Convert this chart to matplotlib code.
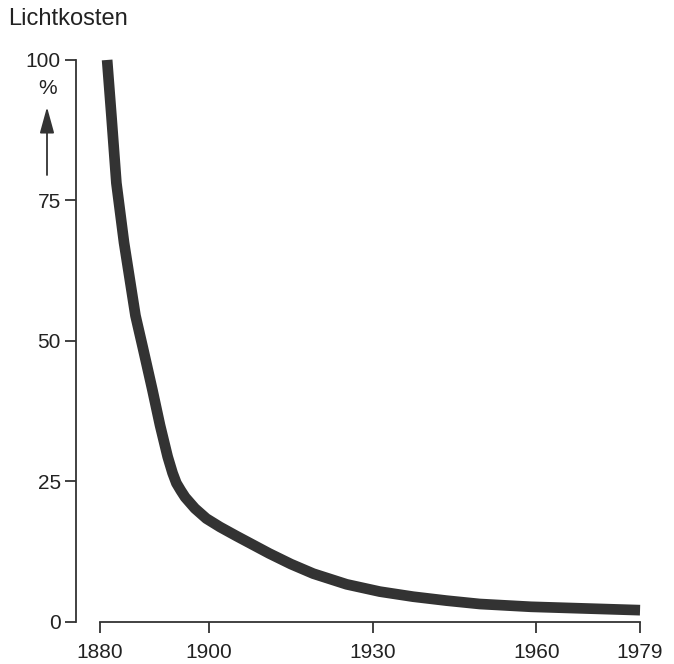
import matplotlib
matplotlib.use("Agg")
import matplotlib.pyplot as plt

# light cost (Lichtkosten) in percent of the 1880 level
years = [1881.3, 1882.1, 1883.0, 1884.4, 1886.5, 1887.9, 1889.6, 1891.0, 1892.4,
         1893.3, 1894.0, 1894.8, 1895.6, 1897.4, 1899.5, 1902.0, 1905.0, 1908.1,
         1911.0, 1915.0, 1919.1, 1925.2, 1931.3, 1937.4, 1943.5, 1949.6, 1959.0,
         1979.0]
cost_pct = [100, 89.9, 78.1, 67.5, 54.5, 48.6, 41.3, 35.0, 29.4,
            26.5, 24.7, 23.4, 22.2, 20.2, 18.4, 16.9, 15.3, 13.7,
            12.2, 10.3, 8.6, 6.7, 5.4, 4.5, 3.8, 3.2, 2.7,
            2.1]

x_ticks = [1880, 1900, 1930, 1960, 1979]
y_ticks = [0, 25, 50, 75, 100]

ink = "#333333"
txt = "#222222"
plt.rcParams["font.family"] = ["Liberation Sans", "DejaVu Sans"]

fig = plt.figure(figsize=(6.74, 6.64), dpi=100)
ax = fig.add_axes([0.1128, 0.0633, 0.853, 0.8464])

ax.plot(years, cost_pct, color=ink, lw=7.7, solid_capstyle="butt",
        solid_joinstyle="round", clip_on=False)

ax.set_xlim(1875.6, 1981)
ax.set_ylim(0, 100)
ax.set_xticks(x_ticks)
ax.set_yticks(y_ticks)

# y axis runs 0..100, x axis starts at 1880 (detached from y axis)
for side in ["top", "right"]:
    ax.spines[side].set_visible(False)
ax.spines["left"].set_bounds(0, 100)
ax.spines["bottom"].set_bounds(1880, 1979)
for side in ["left", "bottom"]:
    ax.spines[side].set_color(ink)
    ax.spines[side].set_linewidth(1.3)

ax.tick_params(direction="out", length=8, width=1.3, color=ink,
               labelsize=15, labelcolor=txt)
ax.tick_params(axis="y", pad=3)
ax.tick_params(axis="x", pad=7)

fig.text(8 / 674, 1 - 19 / 664, "Lichtkosten", ha="left", va="center",
         fontsize=17, color=txt)
fig.text(48 / 674, 1 - 89 / 664, "%", ha="center", va="center",
         fontsize=15, color=txt)
ax.annotate("", xy=(47, 664 - 107), xytext=(47, 664 - 175),
            xycoords="figure pixels", textcoords="figure pixels",
            arrowprops=dict(arrowstyle="-|>,head_length=0.8,head_width=0.22",
                            color=ink, lw=1.3, mutation_scale=20,
                            shrinkA=0, shrinkB=0))

plt.savefig("out.png", dpi=100)
